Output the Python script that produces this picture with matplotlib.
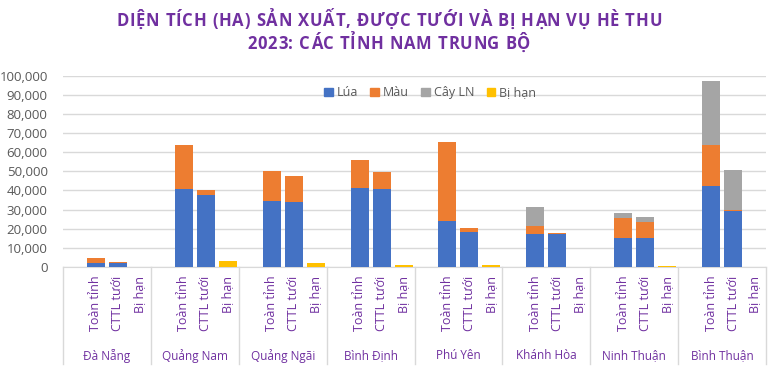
import matplotlib
matplotlib.use("Agg")
import matplotlib.pyplot as plt
import matplotlib.transforms as mtrans
from matplotlib.ticker import FuncFormatter
from matplotlib.patches import Patch

plt.rcParams['font.family'] = ['Open Sans', 'DejaVu Sans']

# số liệu diện tích (ha)
tinh = ['Đà Nẵng', 'Quảng Nam', 'Quảng Ngãi', 'Bình Định',
        'Phú Yên', 'Khánh Hòa', 'Ninh Thuận', 'Bình Thuận']
nhom = ['Toàn tỉnh', 'CTTL tưới', 'Bị hạn']
lua_toan = [2100, 40900, 34600, 41400, 24000, 17200, 15200, 42300]
mau_toan = [2600, 23100, 15800, 14700, 41600, 4200, 10400, 21300]
cln_toan = [0, 0, 0, 0, 0, 10000, 2600, 33600]
lua_cttl = [2100, 37400, 34000, 40900, 18300, 17200, 15200, 29300]
mau_cttl = [400, 3000, 13700, 8900, 2100, 500, 8300, 700]
cln_cttl = [0, 0, 0, 0, 0, 0, 2600, 20700]
bi_han = [0, 3000, 1900, 900, 900, 0, 500, 0]

mau_sac = {'Lúa': '#4472C4', 'Màu': '#ED7D31', 'Cây LN': '#A5A5A5', 'Bị hạn': '#FFC000'}
tim = '#7030A0'
xam = '#595959'
luoi = '#D9D9D9'

W, H = 778, 372


def tieu_de_gian_chu(fig, s, y, gian, **kw):
    # vẽ từng ký tự để giãn khoảng cách chữ như tiêu đề Excel
    r = fig.canvas.get_renderer()
    rong = []
    for ch in s:
        t = fig.text(0, 0, ch, **kw)
        rong.append(t.get_window_extent(r).width)
        t.remove()
    tong = sum(rong) + gian * (len(s) - 1)
    x = (W - tong) / 2
    for ch, w in zip(s, rong):
        fig.text(x / W, y, ch, ha='left', va='baseline', **kw)
        x += w + gian


fig = plt.figure(figsize=(W / 100, H / 100), dpi=100)
ax = fig.add_axes([63 / W, 105 / H, 703 / W, 191.3 / H])

bw = 0.82
for g in range(len(tinh)):
    x0 = 4 * g + 1
    # toàn tỉnh
    ax.bar(x0, lua_toan[g], bw, color=mau_sac['Lúa'], zorder=3)
    ax.bar(x0, mau_toan[g], bw, bottom=lua_toan[g], color=mau_sac['Màu'], zorder=3)
    ax.bar(x0, cln_toan[g], bw, bottom=lua_toan[g] + mau_toan[g], color=mau_sac['Cây LN'], zorder=3)
    # CTTL tưới
    ax.bar(x0 + 1, lua_cttl[g], bw, color=mau_sac['Lúa'], zorder=3)
    ax.bar(x0 + 1, mau_cttl[g], bw, bottom=lua_cttl[g], color=mau_sac['Màu'], zorder=3)
    ax.bar(x0 + 1, cln_cttl[g], bw, bottom=lua_cttl[g] + mau_cttl[g], color=mau_sac['Cây LN'], zorder=3)
    # bị hạn
    ax.bar(x0 + 2, bi_han[g], bw, color=mau_sac['Bị hạn'], zorder=3)

ax.set_xlim(-0.5, 4 * len(tinh) - 0.5)
ax.set_ylim(0, 100000)
ax.set_yticks(range(0, 100001, 10000))
ax.yaxis.set_major_formatter(FuncFormatter(lambda v, p: f'{int(v):,}'))
ax.tick_params(axis='y', length=0, pad=11, labelsize=9.5, labelcolor=xam)
ax.set_xticks([])
ax.grid(axis='y', color=luoi, linewidth=1, zorder=0)
for sp in ['top', 'right', 'left']:
    ax.spines[sp].set_visible(False)
ax.spines['bottom'].set_color(luoi)

# nhãn trục x hai cấp
tr = mtrans.blended_transform_factory(ax.transData, ax.transAxes)
for g in range(len(tinh)):
    for k, ten in enumerate(nhom):
        ax.text(4 * g + 1 + k, -0.045, ten, transform=tr, rotation=90,
                ha='center', va='top', fontsize=9, color=tim)
    ax.text(4 * g + 1.5, -0.465, tinh[g], transform=tr, ha='center', va='center',
            fontsize=8.5, color=tim)
for g in range(len(tinh) + 1):
    ax.plot([4 * g - 0.5, 4 * g - 0.5], [0, -0.507], transform=tr, color=luoi,
            linewidth=1, clip_on=False)

ax.legend(handles=[Patch(color=c, label=l) for l, c in mau_sac.items()],
          loc='center', bbox_to_anchor=(0.522, 0.91), ncol=4, frameon=False,
          handlelength=0.7, handleheight=0.7, handletextpad=0.3,
          columnspacing=1.0, fontsize=9, labelcolor=xam)

tieu_de_gian_chu(fig, 'DIỆN TÍCH (HA) SẢN XUẤT, ĐƯỢC TƯỚI VÀ BỊ HẠN VỤ HÈ THU',
                 1 - 26 / H, 0.8, fontsize=12, fontweight='bold', color=tim)
tieu_de_gian_chu(fig, '2023: CÁC TỈNH NAM TRUNG BỘ',
                 1 - 49 / H, 0.8, fontsize=12, fontweight='bold', color=tim)

fig.savefig('out.png', dpi=100)
